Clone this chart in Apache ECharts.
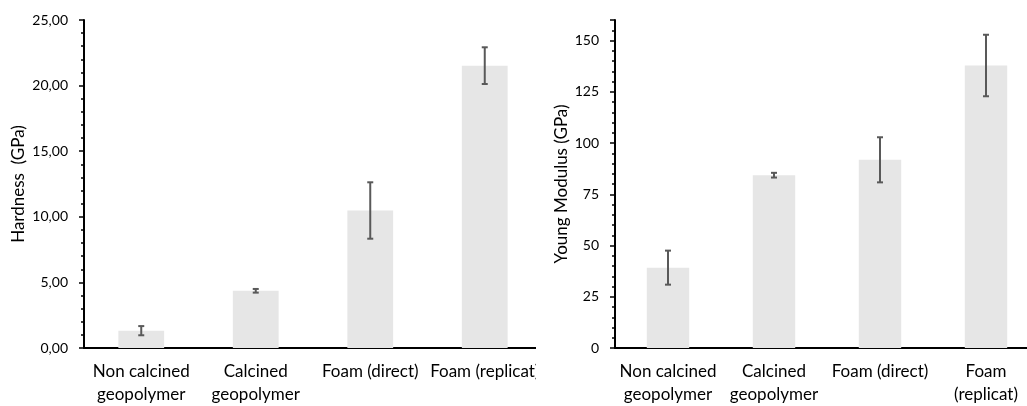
<!DOCTYPE html>
<html>
<head>
<meta charset="utf-8">
<script src="https://cdn.jsdelivr.net/npm/echarts@6/dist/echarts.min.js"></script>
<style>
  html, body { margin: 0; padding: 0; background: #fff; }
  #wrap { position: relative; width: 1027px; height: 406px; overflow: hidden; background: #fff; }
  #leftClip { position: absolute; left: 0; top: 0; width: 536px; height: 406px; overflow: hidden; }
  #left { position: absolute; left: 0; top: 0; width: 560px; height: 406px; }
  #right { position: absolute; left: 536px; top: 0; width: 491px; height: 406px; }
</style>
</head>
<body>
<div id="wrap">
  <div id="leftClip"><div id="left"></div></div>
  <div id="right"></div>
</div>
<script>
// ---- Data ----
const categoriesHardness = ['Non calcined\ngeopolymer', 'Calcined\ngeopolymer', 'Foam (direct)', 'Foam (replicat)'];
const categoriesModulus = ['Non calcined\ngeopolymer', 'Calcined\ngeopolymer', 'Foam (direct)', 'Foam\n(replicat)'];
const hardness = [1.32, 4.36, 10.48, 21.52];
const hardnessErr = [0.35, 0.14, 2.15, 1.40];
const modulus = [39.2, 84.3, 91.8, 137.8];
const modulusErr = [8.3, 1.15, 11.0, 15.0];

const FONT = 'Lato';
const BAR_COLOR = '#e6e6e6';
const ERR_COLOR = '#595959';

function errorSeries(values, errs) {
  return {
    type: 'custom',
    z: 5,
    data: values.map((v, i) => [i, v - errs[i], v + errs[i]]),
    renderItem: function (params, api) {
      const x = api.value(0);
      const lo = api.coord([x, api.value(1)]);
      const hi = api.coord([x, api.value(2)]);
      const hw = 3;
      const style = { stroke: ERR_COLOR, lineWidth: 2 };
      return {
        type: 'group',
        children: [
          { type: 'line', shape: { x1: lo[0], y1: lo[1], x2: hi[0], y2: hi[1] }, style: style },
          { type: 'line', shape: { x1: lo[0] - hw, y1: lo[1], x2: lo[0] + hw, y2: lo[1] }, style: style },
          { type: 'line', shape: { x1: hi[0] - hw, y1: hi[1], x2: hi[0] + hw, y2: hi[1] }, style: style }
        ]
      };
    }
  };
}

function makeOption(cfg) {
  return {
    animation: false,
    backgroundColor: '#fff',
    grid: Object.assign({ outerBoundsMode: 'none', containLabel: false }, cfg.grid),
    xAxis: {
      type: 'category',
      data: cfg.categories,
      axisLine: { lineStyle: { color: '#000', width: 2 } },
      axisTick: { show: false },
      axisLabel: {
        interval: 0,
        margin: 12,
        color: '#000',
        fontFamily: FONT,
        fontSize: 17,
        lineHeight: 23
      }
    },
    yAxis: {
      type: 'value',
      min: 0,
      max: cfg.max,
      interval: cfg.interval,
      name: cfg.name,
      nameLocation: 'middle',
      nameGap: cfg.nameGap,
      nameMoveOverlap: false,
      nameTextStyle: { color: '#000', fontFamily: FONT, fontSize: 17 },
      axisLine: { show: true, lineStyle: { color: '#000', width: 2 } },
      axisTick: { show: true, length: 5, lineStyle: { color: '#000', width: 1.5 } },
      minorTick: { show: true, splitNumber: 5, length: 3, lineStyle: { color: '#000', width: 1.5 } },
      splitLine: { show: false },
      minorSplitLine: { show: false },
      axisLabel: {
        margin: 16,
        color: '#000',
        fontFamily: FONT,
        fontSize: 14,
        showMaxLabel: cfg.showMaxLabel,
        formatter: cfg.formatter
      }
    },
    series: [
      {
        type: 'bar',
        data: cfg.values,
        barWidth: '40%',
        itemStyle: { color: BAR_COLOR }
      },
      errorSeries(cfg.values, cfg.errs)
    ]
  };
}

const leftChart = echarts.init(document.getElementById('left'), null, { renderer: 'canvas' });
leftChart.setOption(makeOption({
  grid: { left: 84, top: 20, width: 458, bottom: 58 },
  categories: categoriesHardness,
  values: hardness,
  errs: hardnessErr,
  max: 25,
  interval: 5,
  name: 'Hardness  (GPa)',
  nameGap: 57,
  showMaxLabel: true,
  formatter: v => v.toFixed(2).replace('.', ',')
}));

const rightChart = echarts.init(document.getElementById('right'), null, { renderer: 'canvas' });
rightChart.setOption(makeOption({
  grid: { left: 79, top: 20, width: 424, bottom: 58 },
  categories: categoriesModulus,
  values: modulus,
  errs: modulusErr,
  max: 160,
  interval: 25,
  name: 'Young Modulus (GPa)',
  nameGap: 45,
  showMaxLabel: false,
  formatter: v => String(v)
}));
</script>
</body>
</html>
